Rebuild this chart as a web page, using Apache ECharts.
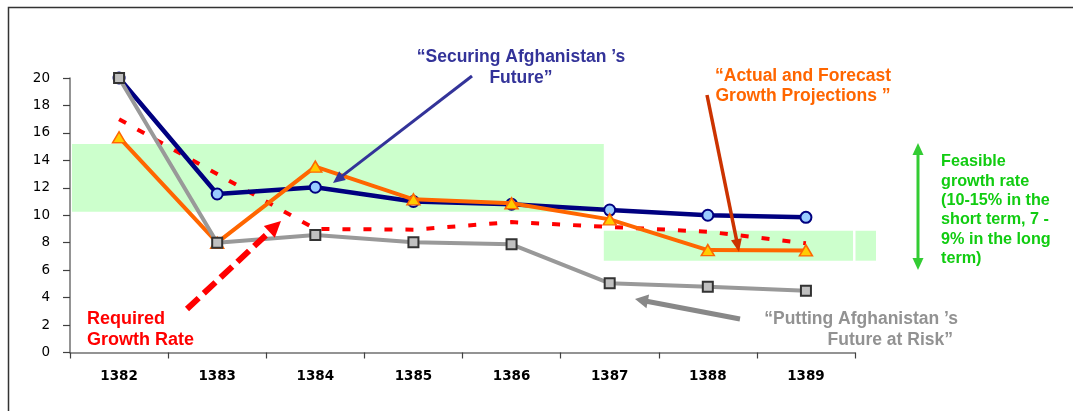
<!DOCTYPE html>
<html>
<head>
<meta charset="utf-8">
<script src="https://cdn.jsdelivr.net/npm/echarts@6/dist/echarts.min.js"></script>
<style>
  html, body { margin: 0; padding: 0; background: #ffffff; }
  #chart { width: 1073px; height: 411px; }
</style>
</head>
<body>
<div id="chart"></div>
<script>
// Fiscal years (Solar Hijri calendar)
const years = ['1382', '1383', '1384', '1385', '1386', '1387', '1388', '1389'];

// Growth rate scenarios, percent
const securingFuture = [20, 11.55, 12.04, 11.0, 10.8, 10.38, 10.0, 9.85];
const actualForecast = [15.68, 8.0, 13.54, 11.16, 10.87, 9.7, 7.46, 7.44];
const futureAtRisk   = [20, 8.0, 8.56, 8.03, 7.88, 5.04, 4.79, 4.5];
const requiredRate   = [17, 13, 9.0, 8.95, 9.5, 9.15, 8.8, 7.96];

// Y axis ticks
const yTicks = { min: 0, max: 20, step: 2 };

// Feasible growth bands: [fromIndex, toIndex, low, high] on a continuous year index
const feasibleBands = [
  [-0.48, 4.94, 10.25, 15.19],
  [4.94, 7.48, 6.69, 8.87],
  [7.505, 7.714, 6.69, 8.87]
];

const FONT = '"Liberation Sans", Arial, sans-serif';
const AXIS_FONT = '"DejaVu Sans", sans-serif';

const chart = echarts.init(document.getElementById('chart'), null, { renderer: 'canvas' });

function arrow(x1, y1, x2, y2, color, width, headLen, headW, dash) {
  const dx = x2 - x1, dy = y2 - y1;
  const len = Math.sqrt(dx * dx + dy * dy);
  const ux = dx / len, uy = dy / len;
  const px = -uy, py = ux;
  const bx = x2 - ux * headLen, by = y2 - uy * headLen;
  const lineEndX = x2 - ux * headLen * 0.6, lineEndY = y2 - uy * headLen * 0.6;
  return [
    {
      type: 'line', silent: true, z: 50,
      shape: { x1: x1, y1: y1, x2: lineEndX, y2: lineEndY },
      style: { stroke: color, lineWidth: width, lineDash: dash || null, lineCap: 'butt' }
    },
    {
      type: 'polygon', silent: true, z: 51,
      shape: { points: [[x2, y2], [bx + px * headW / 2, by + py * headW / 2], [bx - px * headW / 2, by - py * headW / 2]] },
      style: { fill: color }
    }
  ];
}

function label(x, y, text, color, size, align, lineHeight, family) {
  return {
    type: 'text', silent: true, z: 60, x: x, y: y,
    style: {
      text: text, fill: color, fontSize: size, fontWeight: 'bold',
      fontFamily: family || FONT, align: align, verticalAlign: 'middle',
      lineHeight: lineHeight
    }
  };
}

const graphics = [].concat(
  // frame
  [{ type: 'polyline', silent: true, z: 5,
     shape: { points: [[8.5, 411], [8.5, 7.5], [1073, 7.5]] },
     style: { stroke: '#333333', lineWidth: 1.5, fill: null } }],
  arrow(472, 76, 333, 183, '#333399', 3, 12, 11),
  arrow(707, 95, 739, 252, '#CC3300', 3.5, 13, 11),
  arrow(740, 319, 635, 299, '#888888', 5, 13, 14),
  arrow(187, 309, 281, 221, '#FF0000', 6, 16, 16, [16, 7]),
  arrow(918, 156, 918, 143, '#33CC33', 3, 12, 11),
  arrow(918, 156, 918, 270, '#33CC33', 3, 12, 11),
  [
    label(521, 67.5, '“Securing Afghanistan ’s\nFuture”', '#333399', 17.5, 'center', 21.6),
    label(803, 86.3, '“Actual and Forecast\nGrowth Projections ”', '#FF6600', 17.5, 'center', 20.7),
    label(958, 319.3, '“Putting Afghanistan ’s', '#929292', 17.5, 'right', 20.7),
    label(953, 340, 'Future at Risk”', '#929292', 17.5, 'right', 20.7),
    label(87, 329.7, 'Required\nGrowth Rate', '#FF0000', 18, 'left', 20.7),
    label(941, 210.2, 'Feasible\ngrowth rate\n(10-15% in the\nshort term, 7 -\n9% in the long\nterm)', '#11CC11', 16.2, 'left', 19.4)
  ]
);

const option = {
  animation: false,
  backgroundColor: '#ffffff',
  grid: { left: 70, right: 218, top: 78, bottom: 58.5 },
  xAxis: [
    {
      type: 'category',
      data: years,
      boundaryGap: true,
      axisLine: { onZero: false, lineStyle: { color: '#707070', width: 1.5 } },
      axisTick: { show: true, length: 6, lineStyle: { color: '#404040', width: 1.2 } },
      axisLabel: { color: '#000000', fontFamily: AXIS_FONT, fontWeight: 'bold', fontSize: 13.5, margin: 17 },
      splitLine: { show: false }
    },
    {
      type: 'value', min: -0.5, max: 7.5, show: false,
      axisLine: { onZero: false },
      splitLine: { show: false }
    }
  ],
  yAxis: {
    type: 'value',
    min: yTicks.min, max: yTicks.max, interval: yTicks.step,
    axisLine: { show: true, onZero: false, lineStyle: { color: '#707070', width: 1.5 } },
    axisTick: { show: true, length: 7, lineStyle: { color: '#404040', width: 1.2 } },
    axisLabel: { color: '#000000', fontFamily: AXIS_FONT, fontSize: 13.5, margin: 20 },
    splitLine: { show: false }
  },
  series: [
    {
      name: 'Feasible band',
      type: 'custom',
      xAxisIndex: 1,
      yAxisIndex: 0,
      z: 1,
      silent: true,
      clip: false,
      encode: { x: [0, 1], y: [2, 3] },
      data: feasibleBands,
      renderItem: function (params, api) {
        const p0 = api.coord([api.value(0), api.value(3)]);
        const p1 = api.coord([api.value(1), api.value(2)]);
        return {
          type: 'rect',
          shape: { x: p0[0], y: p0[1], width: p1[0] - p0[0], height: p1[1] - p0[1] },
          style: { fill: '#CCFFCC' }
        };
      }
    },
    {
      name: 'Required Growth Rate',
      type: 'line',
      data: requiredRate,
      z: 3,
      symbol: 'none',
      lineStyle: { color: '#FF0000', width: 4, type: [8, 13] }
    },
    {
      name: 'Securing Afghanistan’s Future',
      type: 'line',
      data: securingFuture,
      z: 4,
      symbol: 'circle',
      symbolSize: 11,
      lineStyle: { color: '#000080', width: 4.5 },
      itemStyle: { color: '#99CCFF', borderColor: '#000080', borderWidth: 2 }
    },
    {
      name: 'Actual and Forecast Growth Projections',
      type: 'line',
      data: actualForecast,
      z: 5,
      symbol: 'triangle',
      symbolSize: [13, 11],
      lineStyle: { color: '#FF6600', width: 4 },
      itemStyle: { color: '#FFCC00', borderColor: '#FF6600', borderWidth: 1.5 }
    },
    {
      name: 'Putting Afghanistan’s Future at Risk',
      type: 'line',
      data: futureAtRisk,
      z: 6,
      symbol: 'rect',
      symbolSize: 10,
      lineStyle: { color: '#999999', width: 4 },
      itemStyle: { color: '#C0C0C0', borderColor: '#333333', borderWidth: 2 }
    }
  ],
  graphic: graphics
};

chart.setOption(option);
</script>
</body>
</html>
